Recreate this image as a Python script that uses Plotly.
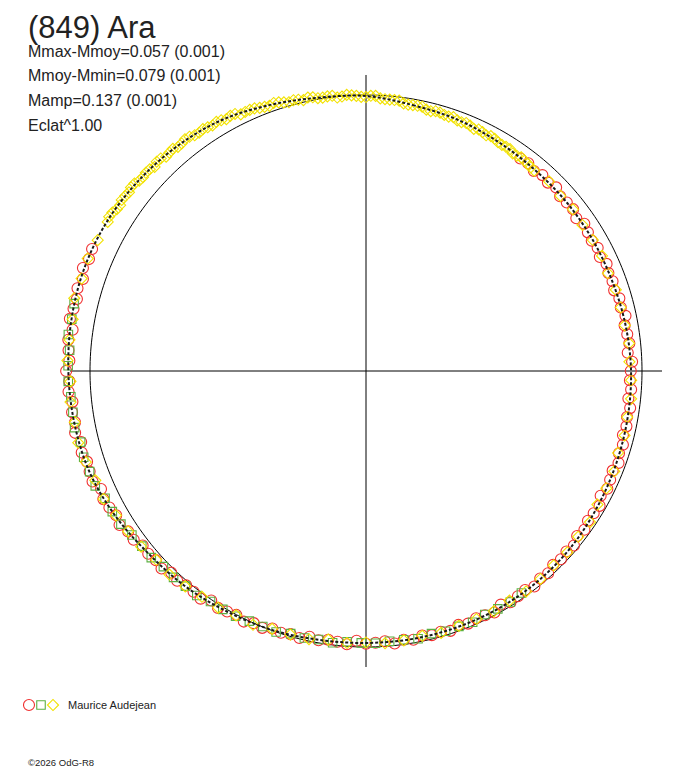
import numpy as np
import plotly.graph_objects as go

# lightcurve of (849) Ara plotted in polar form: angle = rotation phase (deg),
# radius = brightness (flux^1) relative to the mean, mean = the reference circle
title_text = "(849) Ara"
stats_lines = ["Mmax-Mmoy=0.057 (0.001)", "Mmoy-Mmin=0.079 (0.001)",
               "Mamp=0.137 (0.001)", "Eclat^1.00"]
observer = "Maurice Audejean"
credit = "©2026 OdG-R8"

# fitted model curve, phase in degrees, delta mag from mean
model_phase = [0, 10, 20, 30, 40, 50, 60, 70, 80, 90, 100, 110, 120, 130, 140, 150, 160, 170,
               180, 190, 200, 210, 220, 230, 240, 250, 260, 270, 280, 290, 300, 310, 320, 330,
               340, 350, 360]
model_dmag = [0.004, 0.024, 0.034, 0.046, 0.054, 0.056, 0.057, 0.056, 0.050, 0.044, 0.041, 0.037,
              0.031, 0.023, 0.018, 0.016, 0.016, 0.016, 0.016, 0.012, 0.002, -0.007, -0.020,
              -0.031, -0.052, -0.070, -0.077, -0.082, -0.087, -0.090, -0.087, -0.078, -0.067,
              -0.052, -0.027, -0.006, 0.004]

# session 1 (red circles)
red_phase = [36, 38, 40, 42, 44, 46, 48, 50, 52, 54, 56, 58, 60, 62, 64, 66, 68, 70, 72, 74, 76, 78,
             80, 82, 84, 86, 88, 90, 92, 94, 96, 98, 100, 102, 104, 106, 108, 110, 112, 114, 116,
             118, 120, 122, 124, 126, 128, 130, 132, 134, 136, 138, 140, 142, 144, 146, 148, 150,
             152, 154, 156, 158, 160, 162, 164, 166, 168, 170, 172, 174, 176, 178, 180, 182, 184,
             186, 188, 190, 192, 194, 196, 198, 200, 202, 204, 206, 208, 210, 212, 214, 216, 218,
             220, 222, 224, 226, 228, 230, 232, 234, 236, 238, 240, 242, 244, 246, 248, 250, 252,
             254, 256, 258, 260, 262, 264, 266, 268, 270, 272, 274, 276, 278, 280, 282, 284, 286,
             288, 290, 292, 294]
red_dmag = [0.054, 0.050, 0.060, 0.050, 0.057, 0.047, 0.060, 0.056, 0.053, 0.065, 0.051, 0.058,
            0.062, 0.055, 0.064, 0.051, 0.059, 0.055, 0.061, 0.050, 0.054, 0.043, 0.054, 0.049,
            0.045, 0.055, 0.039, 0.045, 0.048, 0.041, 0.049, 0.037, 0.044, 0.039, 0.045, 0.035,
            0.040, 0.029, 0.040, 0.035, 0.030, 0.041, 0.025, 0.030, 0.033, 0.024, 0.032, 0.018,
            0.025, 0.020, 0.026, 0.015, 0.020, 0.010, 0.021, 0.017, 0.013, 0.025, 0.010, 0.017,
            0.021, 0.014, 0.023, 0.011, 0.019, 0.015, 0.022, 0.012, 0.018, 0.008, 0.020, 0.016,
            0.013, 0.024, 0.008, 0.015, 0.018, 0.010, 0.017, 0.003, 0.009, 0.003, 0.008, -0.004,
            0.000, -0.011, -0.001, -0.007, -0.013, -0.003, -0.021, -0.016, -0.015, -0.024,
            -0.017, -0.032, -0.026, -0.032, -0.029, -0.043, -0.042, -0.056, -0.048, -0.056,
            -0.062, -0.054, -0.072, -0.069, -0.066, -0.075, -0.067, -0.081, -0.074, -0.079,
            -0.073, -0.084, -0.079, -0.090, -0.079, -0.084, -0.088, -0.077, -0.093, -0.087,
            -0.083, -0.091, -0.082, -0.095, -0.086, -0.090]

# session 2 (green squares)
green_phase = [145, 148, 151, 154, 157, 160, 163, 166, 169, 172, 175, 178, 181, 184, 187, 190, 193,
               196, 199, 202, 205, 208, 211, 214, 217, 220, 223, 226, 229, 232, 235, 238, 241, 244,
               247, 250, 253, 256, 259, 262, 265, 268, 271, 274, 277, 280, 283]
green_dmag = [0.020, 0.014, 0.016, 0.020, 0.012, 0.017, 0.015, 0.021, 0.013, 0.018, 0.019, 0.014,
              0.016, 0.018, 0.009, 0.013, 0.008, 0.011, 0.000, 0.002, 0.000, -0.007, -0.008,
              -0.008, -0.020, -0.019, -0.024, -0.022, -0.033, -0.033, -0.038, -0.050, -0.054,
              -0.055, -0.069, -0.069, -0.073, -0.069, -0.079, -0.076, -0.077, -0.083, -0.083,
              -0.080, -0.090, -0.086, -0.089]

# session 3 (yellow diamonds)
yellow_phase = [0, 2, 4, 6, 8, 10, 12, 14, 16, 18, 20, 22, 24, 26, 28, 30, 32, 34, 36, 38, 40, 44,
                48, 52, 56, 60, 64, 68, 72, 76, 80, 84, 88, 92, 96, 100, 104, 108, 112, 116, 120,
                124, 128, 132, 136, 140, 144, 148, 152, 156, 160, 164, 168, 172, 176, 180, 184,
                188, 192, 196, 200, 204, 208, 212, 216, 220, 224, 228, 232, 236, 240, 244, 248,
                252, 256, 260, 264, 268, 272, 276, 280, 284, 288, 292, 296, 300, 302, 304, 306,
                308, 310, 312, 314, 316, 318, 320, 322, 324, 326, 328, 330, 332, 334, 336, 338,
                340, 342, 344, 346, 348, 350, 352, 354, 356, 358]
yellow_dmag = [0.008, 0.003, 0.014, 0.014, 0.023, 0.024, 0.023, 0.033, 0.029, 0.034, 0.037, 0.034,
               0.044, 0.041, 0.040, 0.048, 0.047, 0.055, 0.048, 0.053, 0.058, 0.050, 0.058, 0.054,
               0.060, 0.057, 0.054, 0.061, 0.054, 0.054, 0.053, 0.046, 0.050, 0.043, 0.038, 0.043,
               0.038, 0.044, 0.033, 0.034, 0.035, 0.023, 0.027, 0.020, 0.023, 0.018, 0.014, 0.021,
               0.015, 0.018, 0.019, 0.014, 0.021, 0.016, 0.012, 0.018, 0.013, 0.019, 0.007, 0.007,
               0.006, -0.007, -0.003, -0.012, -0.012, -0.020, -0.027, -0.024, -0.036, -0.042,
               -0.049, -0.061, -0.061, -0.071, -0.078, -0.075, -0.080, -0.075, -0.086, -0.084,
               -0.083, -0.093, -0.087, -0.091, -0.085, -0.084, -0.087, -0.078, -0.082, -0.084,
               -0.076, -0.077, -0.068, -0.074, -0.068, -0.063, -0.069, -0.059, -0.060, -0.052,
               -0.052, -0.050, -0.037, -0.038, -0.030, -0.024, -0.025, -0.014, -0.014, -0.014,
               -0.004, -0.005, 0.004, -0.003, 0.003]

# extra yellow points of the same session on the upper arc
yellow2_phase = [301, 303, 305, 307, 309, 311, 313, 315, 317, 319, 321, 323, 325, 327, 329, 331,
                 333, 335, 337, 339, 341, 343, 345, 347, 349, 351, 353, 355, 357, 359, 1, 3, 5, 7,
                 9, 11, 13, 15, 17, 19, 21, 23, 25, 27, 29, 31, 33, 35, 37, 39]
yellow2_dmag = [-0.089, -0.080, -0.084, -0.079, -0.083, -0.074, -0.075, -0.076, -0.065, -0.070,
                -0.064, -0.066, -0.057, -0.056, -0.056, -0.046, -0.048, -0.038, -0.036, -0.027,
                -0.029, -0.019, -0.017, -0.008, -0.011, -0.003, -0.005, 0.002, 0.000, 0.007,
                0.003, 0.012, 0.014, 0.014, 0.025, 0.023, 0.031, 0.028, 0.033, 0.030, 0.038,
                0.038, 0.038, 0.046, 0.042, 0.049, 0.046, 0.053, 0.051, 0.057]

AXIS_R = 1.0725   # length of the cross lines (relative flux units)
R_MAX = 1.12
RED, GREEN, YELLOW = '#f03030', '#5cb043', '#f2e200'


def flux(dmag):
    # Eclat^1.00 -> radius proportional to flux
    return 10 ** (-0.4 * np.array(dmag))


fig = go.Figure()

# reference circle (mean brightness) and the cross
fig.add_trace(go.Scatterpolar(r=[1.0] * 361, theta=list(range(361)), mode='lines',
                              line=dict(color='black', width=1), hoverinfo='skip'))
for ang in [0, 90]:
    fig.add_trace(go.Scatterpolar(r=[AXIS_R, 0, AXIS_R], theta=[ang, ang, ang + 180], mode='lines',
                                  line=dict(color='black', width=1), hoverinfo='skip'))


def addObs(phase, dmag, symbol, size, color):
    fig.add_trace(go.Scatterpolar(
        r=flux(dmag), theta=phase, mode='markers', cliponaxis=False,
        marker=dict(symbol=symbol, size=size, color='rgba(0,0,0,0)',
                    line=dict(color=color, width=1.1))))


addObs(red_phase, red_dmag, 'circle', 11, RED)
addObs(green_phase, green_dmag, 'square', 8.5, GREEN)
addObs(yellow_phase, yellow_dmag, 'diamond', 8.5, YELLOW)
addObs(yellow2_phase, yellow2_dmag, 'diamond', 8.5, YELLOW)

# model curve
fig.add_trace(go.Scatterpolar(r=flux(model_dmag), theta=model_phase, mode='lines',
                              line=dict(color='#1a1a1a', width=2, dash='3px,2px', shape='spline'),
                              hoverinfo='skip'))

# little symbol row for the observer (hidden cartesian axes)
for i, (sym, col, sz) in enumerate([('circle', RED, 11), ('square', GREEN, 8.5),
                                    ('diamond', YELLOW, 8.5)]):
    fig.add_trace(go.Scatter(x=[i], y=[0], mode='markers', xaxis='x', yaxis='y',
                             marker=dict(symbol=sym, size=sz, color='rgba(0,0,0,0)',
                                         line=dict(color=col, width=1.1))))

# the page body has an 8px margin, so positions below are taken from the
# reference picture and moved back by that amount
OFF = 8
W, H = 688 - OFF, 768 - OFF


def px(x):
    return (x - OFF) / W


def py(y):
    return 1 - (y - OFF) / H


cx, cy, pr = 366, 371, 276 * R_MAX

annots = [dict(text=title_text, x=px(26), y=py(8), yanchor='top',
               font=dict(size=31, color='#222'))]
for k, s in enumerate(stats_lines):
    annots.append(dict(text=s, x=px(26), y=py(51 + 24.8 * k), font=dict(size=16, color='#222')))
annots.append(dict(text=observer, x=px(66), y=py(705), font=dict(size=11, color='#222')))
annots.append(dict(text=credit, x=px(26), y=py(762), font=dict(size=9.5, color='#222')))
for a in annots:
    a.setdefault('yanchor', 'middle')
    a.update(xref='paper', yref='paper', xanchor='left', showarrow=False)

fig.update_layout(
    width=W, height=H,
    margin=dict(l=0, r=0, t=0, b=0),
    paper_bgcolor='white', plot_bgcolor='white',
    showlegend=False,
    font=dict(family='Liberation Sans, Arial, sans-serif', color='#222'),
    annotations=annots,
    polar=dict(
        domain=dict(x=[px(cx - pr), px(cx + pr)], y=[py(cy + pr), py(cy - pr)]),
        bgcolor='white',
        radialaxis=dict(range=[0, R_MAX], visible=False, showgrid=False),
        angularaxis=dict(rotation=90, direction='clockwise', visible=False, showgrid=False),
    ),
    xaxis=dict(domain=[px(23), px(71)], range=[-0.5, 3.5], visible=False, fixedrange=True),
    yaxis=dict(domain=[py(715), py(695)], range=[-1, 1], visible=False, fixedrange=True),
)

fig.write_html("out.html")
